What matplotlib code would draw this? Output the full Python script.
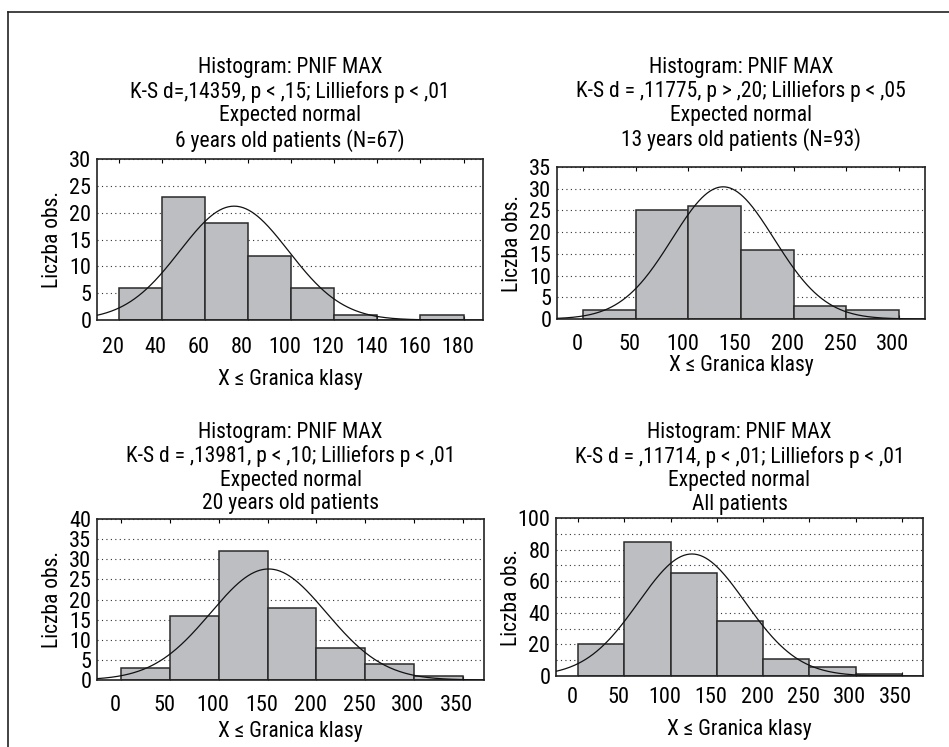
import numpy as np
import matplotlib
matplotlib.use("Agg")
import matplotlib.pyplot as plt
import matplotlib.transforms as mtransforms
from matplotlib.lines import Line2D

plt.rcParams['font.family'] = ['Roboto Condensed', 'Liberation Sans', 'DejaVu Sans']
FS = 15.5
TICK_FS = 16

# histogram data (left bin edges, counts)
edges_6y = [20, 40, 60, 80, 100, 120, 140, 160]
counts_6y = [6, 23, 18, 12, 6, 1, 0, 1]
edges_13y = [0, 50, 100, 150, 200, 250]
counts_13y = [2, 25, 26, 16, 3, 2]
edges_20y = [0, 50, 100, 150, 200, 250, 300]
counts_20y = [3, 16, 32, 18, 8, 4, 1]
edges_all = [0, 50, 100, 150, 200, 250, 300]
counts_all = [20, 85, 65, 35, 11, 6, 1]

# expected normal curves (mean, sd) estimated from the drawn curves
mean_6y, sd_6y = 73.6, 25.2
mean_13y, sd_13y = 133.0, 48.5
mean_20y, sd_20y = 151.0, 59.3
mean_all, sd_all = 123.0, 57.6

titles = [
    ["Histogram: PNIF MAX", "K-S d=,14359, p < ,15; Lilliefors p < ,01",
     "Expected normal", "6 years old patients (N=67)"],
    ["Histogram: PNIF MAX", "K-S d = ,11775, p > ,20; Lilliefors p < ,05",
     "Expected normal", "13 years old patients (N=93)"],
    ["Histogram: PNIF MAX", "K-S d = ,13981, p < ,10; Lilliefors p < ,01",
     "Expected normal", "20 years old patients"],
    ["Histogram: PNIF MAX", "K-S d = ,11714, p < ,01; Lilliefors p < ,01",
     "Expected normal", "All patients"],
]

W, H = 949, 747
fig = plt.figure(figsize=(W / 100, H / 100), dpi=100)

def px_rect(left, top, right, bottom):
    return [left / W, (H - bottom) / H, (right - left) / W, (bottom - top) / H]

panels = [
    dict(rect=px_rect(97, 159, 483, 320), edges=edges_6y, counts=counts_6y, w=20,
         mu=mean_6y, sd=sd_6y, xlim=(10, 189), ylim=30, ystep=5, grid=5,
         xticks=range(20, 181, 20), tpad=9, xlab_y=-0.305, tickpad=12),
    dict(rect=px_rect(557, 167, 925, 319), edges=edges_13y, counts=counts_13y, w=50,
         mu=mean_13y, sd=sd_13y, xlim=(-25, 325), ylim=35, ystep=5, grid=5,
         xticks=range(0, 301, 50), tpad=15, xlab_y=-0.24, tickpad=11),
    dict(rect=px_rect(97, 519, 484, 680), edges=edges_20y, counts=counts_20y, w=50,
         mu=mean_20y, sd=sd_20y, xlim=(-25, 372), ylim=40, ystep=5, grid=5,
         xticks=range(0, 351, 50), tpad=7, xlab_y=-0.255, tickpad=11),
    dict(rect=px_rect(556, 518, 923, 676), edges=edges_all, counts=counts_all, w=50,
         mu=mean_all, sd=sd_all, xlim=(-24, 373), ylim=100, ystep=20, grid=10,
         xticks=range(0, 351, 50), tpad=6, xlab_y=-0.275, tickpad=8),
]

shift = mtransforms.ScaledTranslation(-0.06, 0, fig.dpi_scale_trans)

for p, ttl in zip(panels, titles):
    ax = fig.add_axes(p['rect'])
    ax.bar(p['edges'], p['counts'], width=p['w'], align='edge',
           color='#bdbec1', edgecolor='#2a2a2a', linewidth=1.1, zorder=2)

    n = sum(p['counts'])
    xs = np.linspace(p['xlim'][0], p['xlim'][1], 400)
    ys = n * p['w'] * np.exp(-0.5 * ((xs - p['mu']) / p['sd']) ** 2) / (p['sd'] * np.sqrt(2 * np.pi))
    ax.plot(xs, ys, color='#111111', lw=0.9, zorder=3)

    ax.set_xlim(*p['xlim'])
    ax.set_ylim(0, p['ylim'])
    ax.set_xticks(list(p['xticks']))
    ax.set_yticks(np.arange(0, p['ylim'] + 1, p['ystep']))
    ax.set_yticks(np.arange(0, p['ylim'] + 1, p['grid']), minor=True)
    ax.grid(axis='y', which='both', linestyle=(0, (1, 3)), color='#333333', lw=0.8, zorder=1)
    ax.set_axisbelow(True)

    ax.tick_params(axis='x', direction='in', length=3, top=True, bottom=True,
                   pad=p['tickpad'], labelsize=TICK_FS)
    ax.tick_params(axis='y', which='both', length=0, pad=4, labelsize=TICK_FS)
    for lbl in ax.get_xticklabels():
        lbl.set_transform(lbl.get_transform() + shift)

    for s in ax.spines.values():
        s.set_linewidth(1.2)
        s.set_color('#222222')

    ax.set_title("\n".join(ttl), fontsize=FS, linespacing=1.15, pad=p['tpad'])
    ax.set_ylabel("Liczba obs.", fontsize=FS)
    ax.set_xlabel("X ≤ Granica klasy", fontsize=FS)
    ax.yaxis.set_label_coords(-34 / (p['rect'][2] * W), 0.5)
    ax.xaxis.set_label_coords(0.5, p['xlab_y'])

# frame lines of the figure panel
fig.add_artist(Line2D([8 / W, 8 / W], [0, (H - 12) / H], transform=fig.transFigure,
                      color='#222222', lw=1.2))
fig.add_artist(Line2D([8 / W, 1], [(H - 12) / H, (H - 12) / H], transform=fig.transFigure,
                      color='#222222', lw=1.2))

fig.savefig("out.png", dpi=100)
